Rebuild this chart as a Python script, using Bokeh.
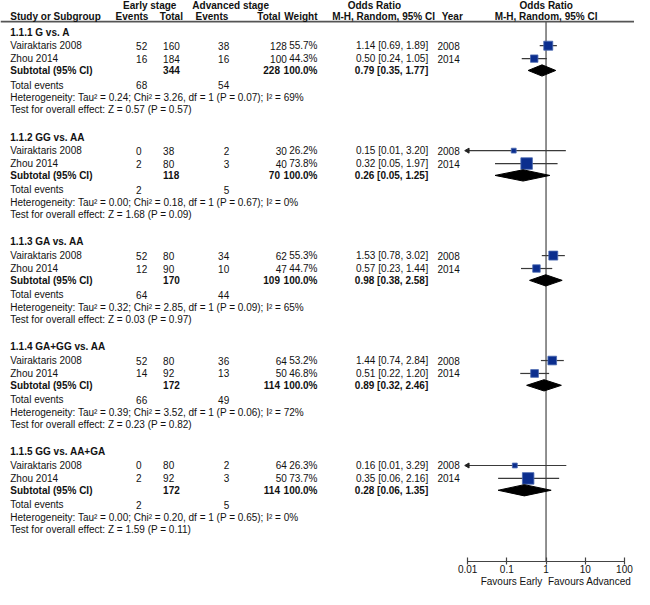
import numpy as np
from bokeh.plotting import figure
from bokeh.models import (Range1d, LogScale, LogAxis, FixedTicker,
                          CustomJSTickFormatter, ColumnDataSource)
from bokeh.core.properties import value
from bokeh.embed import file_html
from bokeh.resources import INLINE

# ---------------- data ----------------
groups = ["1.1.1 G vs. A", "1.1.2 GG vs. AA", "1.1.3 GA vs. AA",
          "1.1.4 GA+GG vs. AA", "1.1.5 GG vs. AA+GA"]
studies = ["Vairaktaris 2008", "Zhou 2014"]
years = ["2008", "2014"]
early_events = [[52, 16], [0, 2], [52, 12], [52, 14], [0, 2]]
early_total = [[160, 184], [38, 80], [80, 90], [80, 92], [80, 92]]
adv_events = [[38, 16], [2, 3], [34, 10], [36, 13], [2, 3]]
adv_total = [[128, 100], [30, 40], [62, 47], [64, 50], [64, 50]]
weights = [[55.7, 44.3], [26.2, 73.8], [55.3, 44.7], [53.2, 46.8], [26.3, 73.7]]
or_est = [[1.14, 0.50], [0.15, 0.32], [1.53, 0.57], [1.44, 0.51], [0.16, 0.35]]
or_lo = [[0.69, 0.24], [0.01, 0.05], [0.78, 0.23], [0.74, 0.22], [0.01, 0.06]]
or_hi = [[1.89, 1.05], [3.20, 1.97], [3.02, 1.44], [2.84, 1.20], [3.29, 2.16]]
sub_early_total = [344, 118, 170, 172, 172]
sub_adv_total = [228, 70, 109, 114, 114]
sub_or = [0.79, 0.26, 0.98, 0.89, 0.28]
sub_lo = [0.35, 0.05, 0.38, 0.32, 0.06]
sub_hi = [1.77, 1.25, 2.58, 2.46, 1.35]
tot_early = [68, 2, 64, 66, 2]
tot_adv = [54, 5, 44, 49, 5]
tau2 = ["0.24", "0.00", "0.32", "0.39", "0.00"]
chi2 = ["3.26", "0.18", "2.85", "3.52", "0.20"]
dfree = [1, 1, 1, 1, 1]
p_het = ["0.07", "0.67", "0.09", "0.06", "0.65"]
i2 = ["69", "0", "65", "72", "0"]
z_val = ["0.57", "1.68", "0.03", "0.23", "1.59"]
p_z = ["0.57", "0.09", "0.97", "0.82", "0.11"]
axis_ticks = [0.01, 0.1, 1, 10, 100]
favour_labels = ["Favours Early", "Favours Advanced"]

# ---------------- layout ----------------
W, H = 634, 589
REF_W, REF_H = 650, 605
AXIS_Y = 577.3
sc = H / REF_H
BB = round((REF_H - AXIS_Y) * sc)
X1, DEC = 559.3, 40.2          # position of OR=1 and pixels per decade (reference units)
FAV_CENTERS = [523.9, 604.0]   # reference-unit centres of the two "Favours" captions
FONT = "Liberation Sans"
FS = "10px"
TXT = "#111111"

p = figure(width=W, height=H, output_backend="svg", toolbar_location=None,
           x_range=Range1d(0, REF_W), y_range=Range1d(AXIS_Y, 0),
           x_axis_type=None, y_axis_type=None,
           min_border_left=0, min_border_right=0, min_border_top=0,
           min_border_bottom=BB)
p.extra_x_ranges = {"or": Range1d(10 ** ((0 - X1) / DEC), 10 ** ((REF_W - X1) / DEC))}
p.extra_x_scales = {"or": LogScale()}
p.outline_line_color = None
p.background_fill_color = "white"
p.border_fill_color = "white"

texts = []


def add(x, y, t, align="left", bold=False):
    texts.append((x, y, t, align, bold))


# header
HY1, HY2, LINE_Y = 4.7, 16.7, 21.7
add(153, HY1, "Early stage", "center", True)
add(236, HY1, "Advanced stage", "center", True)
add(383.3, HY1, "Odds Ratio", "center", True)
add(559.5, HY1, "Odds Ratio", "center", True)
add(10, HY2, "Study or Subgroup", "left", True)
add(118, HY2, "Events", "left", True)
add(163.3, HY2, "Total", "left", True)
add(200, HY2, "Events", "left", True)
add(287, HY2, "Total", "right", True)
add(325, HY2, "Weight", "right", True)
add(340, HY2, "M-H, Random, 95% CI", "left", True)
add(452.3, HY2, "Year", "left", True)
add(559.3, HY2, "M-H, Random, 95% CI", "center", True)

G0, GSTEP = 32.5, 108.0
ROW_OFF = [14.0, 27.3]
SUB_OFF, TOT_OFF, HET_OFF, TEST_OFF = 39.5, 54.5, 67.2, 80.0

sq = dict(x=[], y=[], size=[])
ci = dict(x0=[], x1=[], y=[])
arr = dict(x=[], y=[])
dia = dict(xs=[], ys=[])
DH = 5.8

for g in range(len(groups)):
    y0 = G0 + GSTEP * g
    add(10, y0, groups[g], "left", True)
    for i in range(2):
        y = y0 + ROW_OFF[i]
        add(10, y, studies[i])
        add(139, y, str(early_events[g][i]))
        add(166.7, y, str(early_total[g][i]))
        add(234.5, y, str(adv_events[g][i]), "right")
        add(293.5, y, str(adv_total[g][i]), "right")
        add(325, y, f"{weights[g][i]:.1f}%", "right")
        add(438.5, y, f"{or_est[g][i]:.2f} [{or_lo[g][i]:.2f}, {or_hi[g][i]:.2f}]", "right")
        add(448, y, years[i])
        sq["x"].append(or_est[g][i])
        sq["y"].append(y)
        sq["size"].append(1.2 + 0.14 * weights[g][i])
        ci["x0"].append(max(or_lo[g][i], axis_ticks[0]))
        ci["x1"].append(min(or_hi[g][i], axis_ticks[-1]))
        ci["y"].append(y)
        if or_lo[g][i] <= axis_ticks[0]:
            arr["x"].append(axis_ticks[0])
            arr["y"].append(y)
    ys = y0 + SUB_OFF
    add(10, ys, "Subtotal (95% CI)", "left", True)
    add(166.7, ys, str(sub_early_total[g]), "left", True)
    add(286.5, ys, str(sub_adv_total[g]), "right", True)
    add(325, ys, f"{sum(weights[g]):.1f}%", "right", True)
    add(438.5, ys, f"{sub_or[g]:.2f} [{sub_lo[g]:.2f}, {sub_hi[g]:.2f}]", "right", True)
    dia["xs"].append([sub_lo[g], sub_or[g], sub_hi[g], sub_or[g]])
    dia["ys"].append([ys, ys - DH, ys, ys + DH])
    yt = y0 + TOT_OFF
    add(10, yt, "Total events")
    add(139, yt, str(tot_early[g]))
    add(234.5, yt, str(tot_adv[g]), "right")
    add(10, y0 + HET_OFF,
        f"Heterogeneity: Tau\u00b2 = {tau2[g]}; Chi\u00b2 = {chi2[g]}, df = {dfree[g]} "
        f"(P = {p_het[g]}); I\u00b2 = {i2[g]}%")
    add(10, y0 + TEST_OFF, f"Test for overall effect: Z = {z_val[g]} (P = {p_z[g]})")

# header rule and line of no effect
p.segment(x0=[0], x1=[REF_W], y0=[LINE_Y], y1=[LINE_Y], line_color="#555555", line_width=1.6)
p.segment(x0=[1], x1=[1], y0=[LINE_Y], y1=[AXIS_Y], x_range_name="or",
          line_color="#555555", line_width=1.3)

# confidence intervals
p.segment(x0="x0", x1="x1", y0="y", y1="y", source=ColumnDataSource(ci),
          x_range_name="or", line_color="#3a3a3a", line_width=1.2)
p.scatter(x="x", y="y", source=ColumnDataSource(arr), x_range_name="or",
          marker="triangle", angle=np.pi / 2, size=5,
          fill_color="#222222", line_color="#222222")
# study squares
p.scatter(x="x", y="y", size="size", source=ColumnDataSource(sq), x_range_name="or",
          marker="square", fill_color="#0b2e8e", line_color="#4a68b0", line_width=0.8)
# subtotal diamonds
p.patches(xs="xs", ys="ys", source=ColumnDataSource(dia), x_range_name="or",
          fill_color="black", line_color="black")

# texts
for align in ("left", "center", "right"):
    for bold in (False, True):
        sel = [t for t in texts if t[3] == align and t[4] == bold]
        if not sel:
            continue
        src = ColumnDataSource(dict(x=[t[0] for t in sel], y=[t[1] for t in sel],
                                    t=[t[2] for t in sel]))
        p.text(x="x", y="y", text="t", source=src, text_align=align,
               text_baseline="middle", text_font=value(FONT),
               text_font_size=value(FS), text_color=TXT,
               text_font_style="bold" if bold else "normal")

# odds-ratio axis
ax = LogAxis(x_range_name="or",
             ticker=FixedTicker(ticks=axis_ticks, minor_ticks=[]),
             formatter=CustomJSTickFormatter(code="return tick.toString();"),
             bounds=(axis_ticks[0], axis_ticks[-1]))
ax.axis_line_color = "#444444"
ax.axis_line_width = 1.2
ax.major_tick_line_color = "#444444"
ax.major_tick_line_width = 1.2
ax.major_tick_in = 4
ax.major_tick_out = 3
ax.minor_tick_line_color = None
ax.major_label_standoff = 0
ax.major_label_text_font = FONT
ax.major_label_text_font_size = FS
ax.major_label_text_color = TXT
p.add_layout(ax, "below")

# "Favours" captions as a second, line-less axis under the first
fav_pos = [10 ** ((c - X1) / DEC) for c in FAV_CENTERS]
ax2 = LogAxis(x_range_name="or",
              ticker=FixedTicker(ticks=fav_pos, minor_ticks=[]),
              formatter=CustomJSTickFormatter(args=dict(names=favour_labels),
                                              code="return names[index];"))
ax2.axis_line_color = None
ax2.major_tick_line_color = None
ax2.minor_tick_line_color = None
ax2.major_tick_in = 0
ax2.major_tick_out = 0
ax2.major_label_standoff = 0
ax2.major_label_text_font = FONT
ax2.major_label_text_font_size = FS
ax2.major_label_text_color = TXT
p.add_layout(ax2, "below")

open("out.html", "w").write(file_html(p, INLINE))
